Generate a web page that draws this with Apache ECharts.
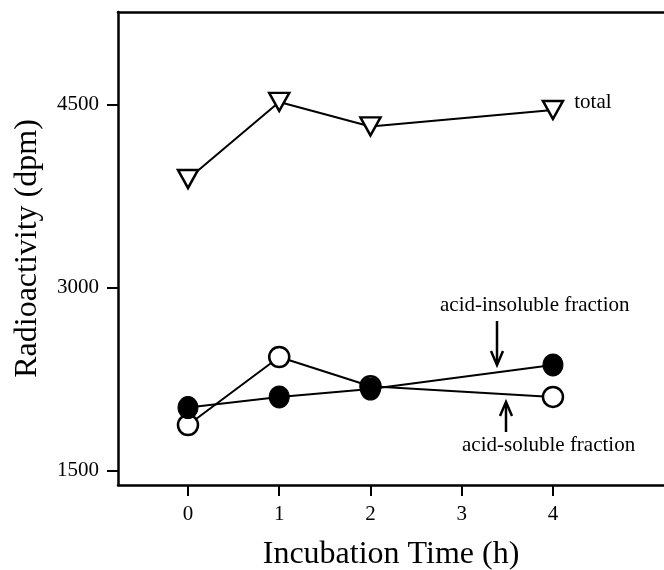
<!DOCTYPE html>
<html>
<head>
<meta charset="utf-8">
<script src="https://cdn.jsdelivr.net/npm/echarts@6/dist/echarts.min.js"></script>
<style>html,body{margin:0;padding:0;background:#fff;}#c{width:664px;height:570px;}</style>
</head>
<body>
<div id="c"></div>
<script>
const times = [0, 1, 2, 4];
const totalVals = [3893, 4525, 4324, 4459];
const insolubleVals = [2020, 2107, 2172, 2369];
const solubleVals = [1877, 2434, 2195, 2107];
const xTicks = [0, 1, 2, 3, 4];
const yTicks = [1500, 3000, 4500];

const FONT = 'Liberation Serif';
const chart = echarts.init(document.getElementById('c'), null, {renderer: 'canvas'});
const pairs = v => times.map((t, i) => [t, v[i]]);

const option = {
  animation: false,
  backgroundColor: '#fff',
  grid: {left: 118, right: 0, top: 12, bottom: 85, outerBoundsMode: 'none', containLabel: false},
  xAxis: [{
    type: 'value', min: -0.767, max: 5.217,
    name: 'Incubation Time (h)', nameLocation: 'middle', nameGap: 54,
    nameTextStyle: {fontFamily: FONT, fontSize: 32, color: '#000'},
    axisLine: {show: true, onZero: false, lineStyle: {color: '#000', width: 2.5}},
    axisTick: {show: true, length: 11, lineStyle: {color: '#000', width: 2}, customValues: xTicks},
    axisLabel: {fontFamily: FONT, fontSize: 21, color: '#000', margin: 19, customValues: xTicks,
      formatter: v => String(v)},
    splitLine: {show: false}
  }, {
    type: 'value', position: 'top', min: -0.767, max: 5.217,
    axisLine: {show: true, lineStyle: {color: '#000', width: 2.5}},
    axisTick: {show: false}, axisLabel: {show: false}, splitLine: {show: false}
  }],
  yAxis: {
    type: 'value', min: 1385, max: 5262,
    name: 'Radioactivity (dpm)', nameLocation: 'middle', nameGap: 74,
    nameTextStyle: {fontFamily: FONT, fontSize: 32, color: '#000'},
    axisLine: {show: true, onZero: false, lineStyle: {color: '#000', width: 2.5}},
    axisTick: {show: true, length: 11, lineStyle: {color: '#000', width: 2}, customValues: yTicks},
    axisLabel: {fontFamily: FONT, fontSize: 21, color: '#000', margin: 19, customValues: yTicks,
      formatter: v => String(v)},
    splitLine: {show: false}
  },
  series: [
    {
      type: 'line', data: pairs(totalVals), symbol: 'triangle', symbolRotate: 180, symbolSize: [20, 18],
      lineStyle: {color: '#000', width: 2}, itemStyle: {color: '#fff', borderColor: '#000', borderWidth: 2.5},
      label: {show: true, position: 'right', distance: 10, offset: [0, -7], fontFamily: FONT, fontSize: 21, color: '#000',
        formatter: p => p.dataIndex === times.length - 1 ? 'total' : ''},
      z: 3
    },
    {
      type: 'line', data: pairs(solubleVals), symbol: 'circle', symbolSize: 20,
      lineStyle: {color: '#000', width: 2}, itemStyle: {color: '#fff', borderColor: '#000', borderWidth: 2.5}, z: 3
    },
    {
      type: 'line', data: pairs(insolubleVals), symbol: 'circle', symbolSize: [20, 22],
      lineStyle: {color: '#000', width: 2}, itemStyle: {color: '#000', borderColor: '#000', borderWidth: 1}, z: 4
    }
  ],
  graphic: [
    {type: 'text', style: {x: 440, y: 305, text: 'acid-insoluble fraction', verticalAlign: 'middle', font: '21px "Liberation Serif"', fill: '#000'}},
    {type: 'line', shape: {x1: 497, y1: 321, x2: 497, y2: 362}, style: {stroke: '#000', lineWidth: 2.5}},
    {type: 'polyline', shape: {points: [[491, 351], [497, 365], [503, 351]]}, style: {stroke: '#000', lineWidth: 2.5, fill: null}},
    {type: 'text', style: {x: 462, y: 445, text: 'acid-soluble fraction', verticalAlign: 'middle', font: '21px "Liberation Serif"', fill: '#000'}},
    {type: 'line', shape: {x1: 506, y1: 432, x2: 506, y2: 405}, style: {stroke: '#000', lineWidth: 2.5}},
    {type: 'polyline', shape: {points: [[500, 416], [506, 402], [512, 416]]}, style: {stroke: '#000', lineWidth: 2.5, fill: null}}
  ]
};
chart.setOption(option);
</script>
</body>
</html>
